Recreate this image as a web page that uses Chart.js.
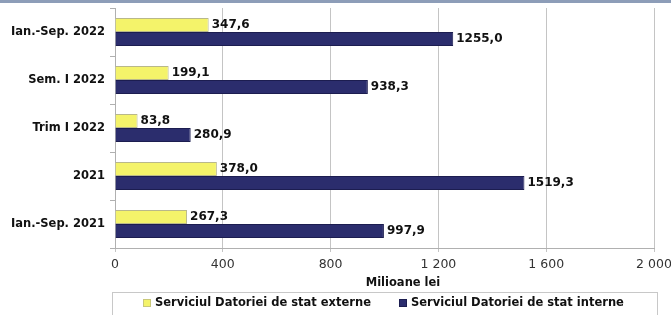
<!DOCTYPE html>
<html>
<head>
<meta charset="utf-8">
<script src="https://cdn.jsdelivr.net/npm/chart.js@4.4.0/dist/chart.umd.min.js"></script>
<style>
  html, body { margin: 0; padding: 0; background: #fff; }
  #wrap { width: 671px; height: 315px; position: relative; }
</style>
</head>
<body>
<div id="wrap"><canvas id="debtChart" width="671" height="315"></canvas></div>
<script>
// categories, top to bottom
const periods = ['Ian.-Sep. 2022', 'Sem. I 2022', 'Trim I 2022', '2021', 'Ian.-Sep. 2021'];
const externalDebt = [347.6, 199.1, 83.8, 378.0, 267.3];
const internalDebt = [1255.0, 938.3, 280.9, 1519.3, 997.9];
const seriesNames = ['Serviciul Datoriei de stat externe', 'Serviciul Datoriei de stat interne'];
const xTicks = [0, 400, 800, 1200, 1600, 2000];
const axisTitle = 'Milioane lei';

const FONT = "'DejaVu Sans', Verdana, sans-serif";

function fmtThousands(v) {
    return String(v).replace(/\B(?=(\d{3})+(?!\d))/g, ' ');
}

// value labels at the end of each bar
const valueLabels = {
    id: 'valueLabels',
    afterDatasetsDraw(chart) {
        const ctx = chart.ctx;
        ctx.save();
        ctx.font = 'bold 12px ' + FONT;
        ctx.fillStyle = '#111';
        ctx.textBaseline = 'middle';
        ctx.textAlign = 'left';
        chart.data.datasets.forEach((ds, i) => {
            chart.getDatasetMeta(i).data.forEach((bar, j) => {
                const txt = ds.data[j].toFixed(1).replace('.', ',');
                ctx.fillText(txt, bar.x + 3, bar.y);
            });
        });
        ctx.restore();
    }
};

// top frame line, axis title and legend box at the bottom
const frameAndLegend = {
    id: 'frameAndLegend',
    afterDraw(chart) {
        const ctx = chart.ctx;
        ctx.save();
        ctx.fillStyle = '#8d9db8';
        ctx.fillRect(0, 0, chart.width, 3);

        ctx.font = 'bold 11.5px ' + FONT;
        ctx.fillStyle = '#111';
        ctx.textAlign = 'center';
        ctx.textBaseline = 'middle';
        ctx.fillText(axisTitle, 403, 283);

        ctx.strokeStyle = '#c8c8c8';
        ctx.lineWidth = 1;
        ctx.strokeRect(112.5, 292.5, 545, 30);

        ctx.textAlign = 'left';
        const items = [
            { x: 143, color: '#f4f36a', border: '#c9c87a' },
            { x: 399, color: '#2b2d6d', border: '#1c1d50' }
        ];
        items.forEach((it, i) => {
            ctx.fillStyle = it.color;
            ctx.fillRect(it.x, 299, 8, 8);
            ctx.strokeStyle = it.border;
            ctx.strokeRect(it.x + 0.5, 299.5, 7, 7);
            ctx.fillStyle = '#111';
            ctx.fillText(chart.data.datasets[i].label, it.x + 12, 303);
        });
        ctx.restore();
    }
};

const ctx = document.getElementById('debtChart').getContext('2d');
const chart = new Chart(ctx, {
    type: 'bar',
    data: {
        labels: periods,
        datasets: [
            {
                label: seriesNames[0],
                data: externalDebt,
                backgroundColor: '#f4f36a',
                borderColor: '#b9b88a',
                borderWidth: 1,
                categoryPercentage: 0.58,
                barPercentage: 1.0
            },
            {
                label: seriesNames[1],
                data: internalDebt,
                backgroundColor: '#2b2d6d',
                borderColor: '#1c1d50',
                borderWidth: 1,
                categoryPercentage: 0.58,
                barPercentage: 1.0
            }
        ]
    },
    options: {
        indexAxis: 'y',
        responsive: false,
        animation: false,
        layout: { padding: { top: 8, right: 17, bottom: 25, left: 0 } },
        plugins: {
            legend: { display: false },
            tooltip: { enabled: false }
        },
        scales: {
            x: {
                min: 0,
                max: 2000,
                afterBuildTicks: (scale) => { scale.ticks = xTicks.map(v => ({ value: v })); },
                afterFit: (scale) => {
                    scale.height = 42;
                    scale.paddingLeft = 0;
                    scale.paddingRight = 0;
                },
                ticks: {
                    color: '#333',
                    padding: 5,
                    maxRotation: 0,
                    font: { family: FONT, size: 12.5 },
                    callback: (v) => fmtThousands(v)
                },
                grid: { color: '#c4c4c4', tickLength: 4 },
                border: { color: '#b0b0b0' }
            },
            y: {
                afterFit: (scale) => {
                    scale.width = 115;
                    scale.paddingTop = 0;
                    scale.paddingBottom = 0;
                },
                ticks: {
                    color: '#111',
                    padding: 5,
                    font: { family: FONT, size: 11.5, weight: 'bold' }
                },
                grid: { drawOnChartArea: false, drawTicks: true, tickLength: 5, color: '#b0b0b0' },
                border: { color: '#b0b0b0' }
            }
        }
    },
    plugins: [valueLabels, frameAndLegend]
});
</script>
</body>
</html>
